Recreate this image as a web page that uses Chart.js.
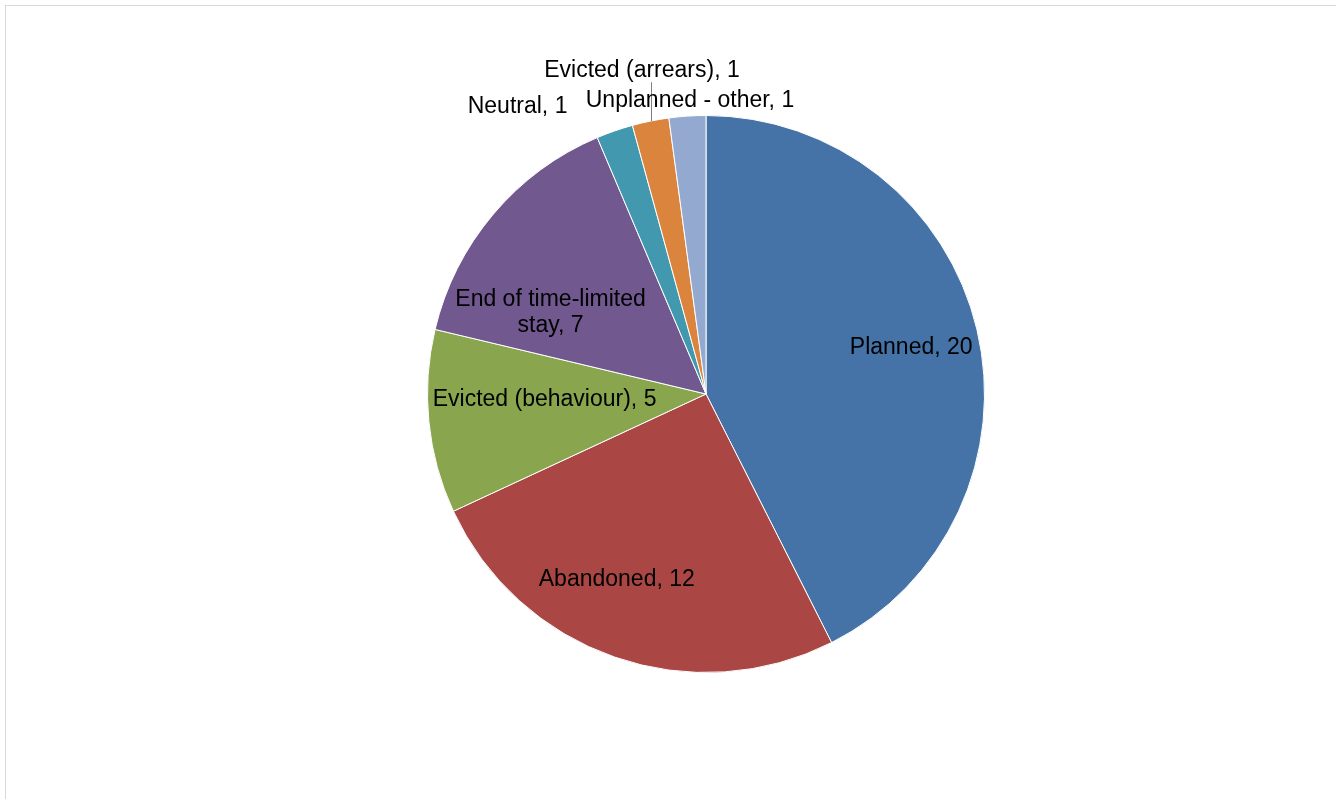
<!DOCTYPE html>
<html>
<head>
<meta charset="utf-8">
<title>Move-on reasons</title>
<script src="https://cdn.jsdelivr.net/npm/chart.js@4.4.1/dist/chart.umd.min.js"></script>
<style>
  html, body { margin: 0; padding: 0; background: #fff; overflow: hidden; }
  canvas { display: block; }
</style>
</head>
<body>
<canvas id="pieCh" width="1336" height="799"></canvas>
<script>
//Data
const categories = ['Planned', 'Abandoned', 'Evicted (behaviour)', 'End of time-limited stay',
    'Neutral', 'Evicted (arrears)', 'Unplanned - other'];
const counts = [20, 12, 5, 7, 1, 1, 1];
const sliceColors = ['#4572A7', '#AA4643', '#89A54E', '#71588F', '#4198AF', '#DB843D', '#93A9CF'];

//Label placement: radius as fraction of the pie, angle shift in degrees
const labelPos = [
    { r: 0.755, shift: 0.8 },
    { r: 0.74, shift: 6.5 },
    { r: 0.58, shift: 3.7 },
    { r: 0.63, shift: -12.6, wrap: 2 },
    { r: 1.234, shift: -14.1 },
    { r: 1.185, shift: 0.3, leader: true },
    { r: 1.055, shift: 0.7 }
];

//Frame around the chart
const framePlugin = {
    id: 'frame',
    beforeDraw(chart) {
        const ctx = chart.ctx;
        ctx.save();
        ctx.fillStyle = '#fff';
        ctx.fillRect(0, 0, chart.width, chart.height);
        ctx.strokeStyle = '#d9d9d9';
        ctx.lineWidth = 1;
        ctx.strokeRect(5.5, 5.5, 1500, 1000);
        ctx.restore();
    }
};

//Slice labels
const labelPlugin = {
    id: 'sliceLabels',
    afterDatasetsDraw(chart) {
        const ctx = chart.ctx;
        const arcs = chart.getDatasetMeta(0).data;
        ctx.save();
        ctx.font = '23px "Liberation Sans", Arial, sans-serif';
        ctx.fillStyle = '#000';
        ctx.textAlign = 'center';
        ctx.textBaseline = 'middle';
        arcs.forEach((arc, i) => {
            const p = arc.getProps(['x', 'y', 'startAngle', 'endAngle', 'outerRadius'], true);
            const mid = (p.startAngle + p.endAngle) / 2;
            const pos = labelPos[i];
            const ang = mid + pos.shift * Math.PI / 180;
            const lx = p.x + Math.cos(ang) * p.outerRadius * pos.r;
            const ly = p.y + Math.sin(ang) * p.outerRadius * pos.r;
            let text = `${categories[i]}, ${counts[i]}`;
            let lines = [text];
            if (pos.wrap) {
                const words = text.split(' ');
                lines = [words.slice(0, -pos.wrap).join(' '), words.slice(-pos.wrap).join(' ')];
            }
            const lh = 26;
            lines.forEach((ln, k) => {
                ctx.fillText(ln, lx, ly + (k - (lines.length - 1) / 2) * lh);
            });
            if (pos.leader) {
                const ex = p.x + Math.cos(mid) * p.outerRadius;
                const ey = p.y + Math.sin(mid) * p.outerRadius;
                ctx.strokeStyle = '#808080';
                ctx.lineWidth = 1;
                ctx.beginPath();
                ctx.moveTo(Math.round(ex) + 0.5, ey);
                ctx.lineTo(Math.round(ex) + 0.5, ly + 12);
                ctx.stroke();
            }
        });
        ctx.restore();
    }
};

let pieChart = new Chart(document.getElementById('pieCh'), {
    type: 'pie',
    data: {
        labels: categories,
        datasets: [{
            data: counts,
            backgroundColor: sliceColors,
            borderColor: '#fff',
            borderWidth: 1
        }]
    },
    options: {
        responsive: false,
        animation: false,
        layout: {
            padding: { left: 76, right: 0, top: 115, bottom: 126 }
        },
        plugins: {
            legend: { display: false },
            tooltip: { enabled: false }
        }
    },
    plugins: [framePlugin, labelPlugin]
});
</script>
</body>
</html>
